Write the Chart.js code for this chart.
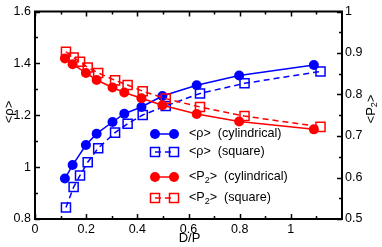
<!DOCTYPE html>
<html>
<head>
<meta charset="utf-8">
<script src="https://cdn.jsdelivr.net/npm/chart.js@4/dist/chart.umd.min.js"></script>
<style>
html,body{margin:0;padding:0;background:#fff;}
canvas{display:block;}
</style>
</head>
<body>
<canvas id="c" width="382" height="247"></canvas>
<script>
// ---- data ----
const xCyl   = [0.117, 0.147, 0.199, 0.241, 0.303, 0.349, 0.416, 0.498, 0.632, 0.798, 1.090];
const rhoCyl = [0.956, 1.008, 1.085, 1.129, 1.174, 1.206, 1.232, 1.274, 1.316, 1.353, 1.394];
const p2Cyl  = [0.887, 0.873, 0.852, 0.835, 0.817, 0.805, 0.791, 0.774, 0.753, 0.735, 0.716];

const xSq    = [0.121, 0.151, 0.176, 0.206, 0.247, 0.313, 0.362, 0.421, 0.511, 0.645, 0.819, 1.116];
const rhoSq  = [0.844, 0.923, 0.968, 1.019, 1.073, 1.133, 1.167, 1.201, 1.236, 1.284, 1.323, 1.369];
const p2Sq   = [0.903, 0.889, 0.879, 0.865, 0.852, 0.834, 0.823, 0.808, 0.790, 0.770, 0.748, 0.722];

const xTicks       = [0, 0.2, 0.4, 0.6, 0.8, 1];
const xMinor       = [0.1, 0.3, 0.5, 0.7, 0.9, 1.1];
const yLeftTicks   = [0.8, 1, 1.2, 1.4, 1.6];
const yLeftMinor   = [0.9, 1.1, 1.3, 1.5];
const yRightTicks  = [0.5, 0.6, 0.7, 0.8, 0.9, 1];
const yRightMinor  = [0.55, 0.65, 0.75, 0.85, 0.95];

const legendItems = [
  {main:'<ρ>', sub:'', rest:'  (cylindrical)', color:'#0000ff', dash:[], style:'circle'},
  {main:'<ρ>', sub:'', rest:'  (square)', color:'#0000ff', dash:[6,4], style:'rect'},
  {main:'<P', sub:'2', rest:'>  (cylindrical)', color:'#ff0000', dash:[], style:'circle'},
  {main:'<P', sub:'2', rest:'>  (square)', color:'#ff0000', dash:[6,4], style:'rect'}
];

const FONT = '"Liberation Sans", Arial, Helvetica, sans-serif';
const pts = (xs, ys) => xs.map((x, i) => ({x: x, y: ys[i]}));

function drawMarker(ctx, style, x, y, color) {
  ctx.save();
  ctx.setLineDash([]);
  ctx.strokeStyle = color;
  ctx.fillStyle = color;
  ctx.lineWidth = 1.5;
  if (style === 'circle') {
    ctx.beginPath(); ctx.arc(x, y, 5, 0, Math.PI * 2); ctx.fill();
  } else {
    ctx.strokeRect(x - 4.5, y - 4.5, 9, 9);
  }
  ctx.restore();
}

const framePlugin = {
  id: 'frame',
  afterDraw(chart) {
    const ctx = chart.ctx;
    const a = chart.chartArea;
    const xs = chart.scales.x, yl = chart.scales.y, yr = chart.scales.y2;
    ctx.save();
    ctx.strokeStyle = '#000';
    ctx.lineWidth = 1.5;
    ctx.setLineDash([]);
    // ticks
    ctx.beginPath();
    const tx = (v, len) => {
      const p = Math.round(xs.getPixelForValue(v)) + 0.5;
      ctx.moveTo(p, a.bottom); ctx.lineTo(p, a.bottom - len);
      ctx.moveTo(p, a.top); ctx.lineTo(p, a.top + len);
    };
    xTicks.forEach(v => tx(v, 5)); xMinor.forEach(v => tx(v, 3));
    const tl = (v, len) => {
      const p = Math.round(yl.getPixelForValue(v)) + 0.5;
      ctx.moveTo(a.left, p); ctx.lineTo(a.left + len, p);
    };
    yLeftTicks.forEach(v => tl(v, 5)); yLeftMinor.forEach(v => tl(v, 3));
    const tr = (v, len) => {
      const p = Math.round(yr.getPixelForValue(v)) + 0.5;
      ctx.moveTo(a.right, p); ctx.lineTo(a.right - len, p);
    };
    yRightTicks.forEach(v => tr(v, 5)); yRightMinor.forEach(v => tr(v, 3));
    ctx.stroke();
    // box
    ctx.lineWidth = 2;
    ctx.strokeRect(a.left, a.top, a.right - a.left, a.bottom - a.top);

    // axis titles
    ctx.fillStyle = '#000';
    ctx.font = '13px ' + FONT;
    ctx.textAlign = 'center';
    ctx.textBaseline = 'middle';
    ctx.fillText('D/P', (a.left + a.right) / 2 + 1, 238);

    ctx.save();
    ctx.translate(9, 112);
    ctx.rotate(-Math.PI / 2);
    ctx.fillText('<ρ>', 0, 0);
    ctx.restore();

    ctx.save();
    ctx.translate(371, 109);
    ctx.rotate(-Math.PI / 2);
    ctx.textAlign = 'left';
    ctx.font = '13px ' + FONT;
    const w1 = ctx.measureText('<P').width;
    ctx.font = '9px ' + FONT;
    const w2 = ctx.measureText('2').width;
    ctx.font = '13px ' + FONT;
    const w3 = ctx.measureText('>').width;
    let sx = -(w1 + w2 + w3) / 2;
    ctx.fillText('<P', sx, 0);
    ctx.font = '9px ' + FONT;
    ctx.fillText('2', sx + w1, 4);
    ctx.font = '13px ' + FONT;
    ctx.fillText('>', sx + w1 + w2, 0);
    ctx.restore();

    // legend
    const ly = [134, 152, 177, 198];
    legendItems.forEach((it, i) => {
      const y = ly[i];
      ctx.save();
      ctx.strokeStyle = it.color;
      ctx.lineWidth = 1.5;
      ctx.setLineDash(it.dash);
      ctx.beginPath(); ctx.moveTo(155, y); ctx.lineTo(174, y); ctx.stroke();
      ctx.restore();
      drawMarker(ctx, it.style, 155, y, it.color);
      drawMarker(ctx, it.style, 174, y, it.color);
      ctx.textAlign = 'left';
      ctx.textBaseline = 'middle';
      ctx.fillStyle = '#000';
      let x = 189;
      ctx.font = '12.6px ' + FONT;
      ctx.fillText(it.main, x, y); x += ctx.measureText(it.main).width;
      if (it.sub) {
        ctx.font = '9px ' + FONT;
        ctx.fillText(it.sub, x, y + 4); x += ctx.measureText(it.sub).width;
      }
      ctx.font = '12.6px ' + FONT;
      ctx.fillText(it.rest, x, y);
    });
    ctx.restore();
  }
};

function fixTicks(arr) {
  return function(scale) { scale.ticks = arr.map(v => ({value: v})); };
}

new Chart(document.getElementById('c'), {
  type: 'line',
  data: {
    datasets: [
      {label: '<ρ> (cylindrical)', data: pts(xCyl, rhoCyl), yAxisID: 'y',
       borderColor: '#0000ff', backgroundColor: '#0000ff', borderWidth: 1.5,
       pointStyle: 'circle', pointRadius: 5, pointBorderWidth: 0, order: 4},
      {label: '<ρ> (square)', data: pts(xSq, rhoSq), yAxisID: 'y',
       borderColor: '#0000ff', backgroundColor: 'rgba(0,0,0,0)', borderWidth: 1.5, borderDash: [6, 4],
       pointStyle: 'rect', pointRadius: 6.4, pointBorderWidth: 1.5, order: 3},
      {label: '<P2> (cylindrical)', data: pts(xCyl, p2Cyl), yAxisID: 'y2',
       borderColor: '#ff0000', backgroundColor: '#ff0000', borderWidth: 1.5,
       pointStyle: 'circle', pointRadius: 5, pointBorderWidth: 0, order: 2},
      {label: '<P2> (square)', data: pts(xSq, p2Sq), yAxisID: 'y2',
       borderColor: '#ff0000', backgroundColor: 'rgba(0,0,0,0)', borderWidth: 1.5, borderDash: [6, 4],
       pointStyle: 'rect', pointRadius: 6.4, pointBorderWidth: 1.5, order: 1}
    ]
  },
  options: {
    responsive: false,
    animation: false,
    devicePixelRatio: 1,
    layout: {padding: {top: 5, left: 0, right: 0, bottom: 0}},
    plugins: {legend: {display: false}, tooltip: {enabled: false}},
    elements: {line: {tension: 0, fill: false}},
    scales: {
      x: {
        type: 'linear', position: 'bottom', min: 0, max: 1.2,
        grid: {display: false, drawTicks: false}, border: {display: false},
        afterBuildTicks: fixTicks(xTicks),
        afterFit(s) { s.height = 28; },
        ticks: {color: '#000', font: {family: FONT, size: 12.5}, padding: 3, maxRotation: 0,
                autoSkip: false, callback: v => String(v)}
      },
      y: {
        type: 'linear', position: 'left', min: 0.8, max: 1.6,
        grid: {display: false, drawTicks: false}, border: {display: false},
        afterBuildTicks: fixTicks(yLeftTicks),
        afterFit(s) { s.width = 35; },
        ticks: {color: '#000', font: {family: FONT, size: 12.5}, padding: 4,
                autoSkip: false, callback: v => String(v)}
      },
      y2: {
        type: 'linear', position: 'right', min: 0.5, max: 1,
        grid: {display: false, drawTicks: false}, border: {display: false},
        afterBuildTicks: fixTicks(yRightTicks),
        afterFit(s) { s.width = 40; },
        ticks: {color: '#000', font: {family: FONT, size: 12.5}, padding: 3,
                autoSkip: false, callback: v => String(v)}
      }
    }
  },
  plugins: [framePlugin]
});
</script>
</body>
</html>
